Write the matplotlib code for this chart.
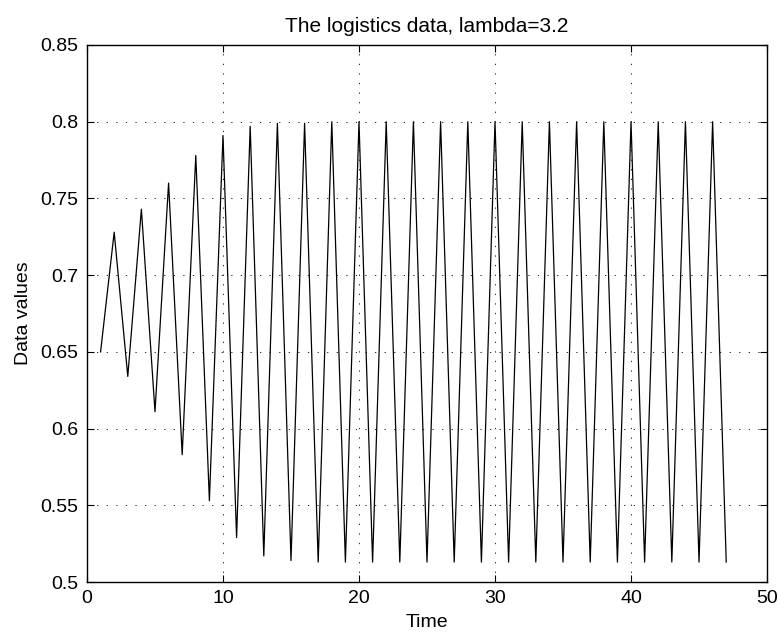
import matplotlib
matplotlib.use('Agg')
import matplotlib.pyplot as plt

# logistic map iterates, lambda = 3.2, x1 = 0.65
time = list(range(1, 48))
values = [0.650, 0.728, 0.634, 0.743, 0.611, 0.760, 0.583, 0.778, 0.553, 0.791,
          0.529, 0.797, 0.517, 0.799, 0.514, 0.799, 0.513, 0.800, 0.513, 0.800,
          0.513, 0.800, 0.513, 0.800, 0.513, 0.800, 0.513, 0.800, 0.513, 0.800,
          0.513, 0.800, 0.513, 0.800, 0.513, 0.800, 0.513, 0.800, 0.513, 0.800,
          0.513, 0.800, 0.513, 0.800, 0.513, 0.800, 0.513]

xticks = [0, 10, 20, 30, 40, 50]
yticks = [0.5, 0.55, 0.6, 0.65, 0.7, 0.75, 0.8, 0.85]
ytick_labels = ['0.5', '0.55', '0.6', '0.65', '0.7', '0.75', '0.8', '0.85']

plt.rcParams['font.family'] = ['Liberation Sans', 'DejaVu Sans']

fig = plt.figure(figsize=(7.78, 6.32), dpi=100)
ax = fig.add_axes([0.1118, 0.0791, 0.8741, 0.8497])

ax.plot(time, values, color='black', linewidth=0.9)

ax.set_xlim(0, 50)
ax.set_ylim(0.5, 0.85)
ax.set_xticks(xticks)
ax.set_xticklabels([str(t) for t in xticks])
ax.set_yticks(yticks)
ax.set_yticklabels(ytick_labels)

# sparse dotted grid
ax.grid(True, color='black', linestyle=(0, (1.5, 10)), linewidth=0.6)
ax.tick_params(direction='in', top=True, right=True, length=5, width=0.8,
               labelsize=14, pad=6)
for sp in ax.spines.values():
    sp.set_linewidth(1.0)

ax.set_title('The logistics data, lambda=3.2', fontsize=15, pad=9)
ax.set_xlabel('Time', fontsize=14, labelpad=5)
ax.set_ylabel('Data values', fontsize=14, labelpad=6)

fig.savefig('out.png', dpi=100)
